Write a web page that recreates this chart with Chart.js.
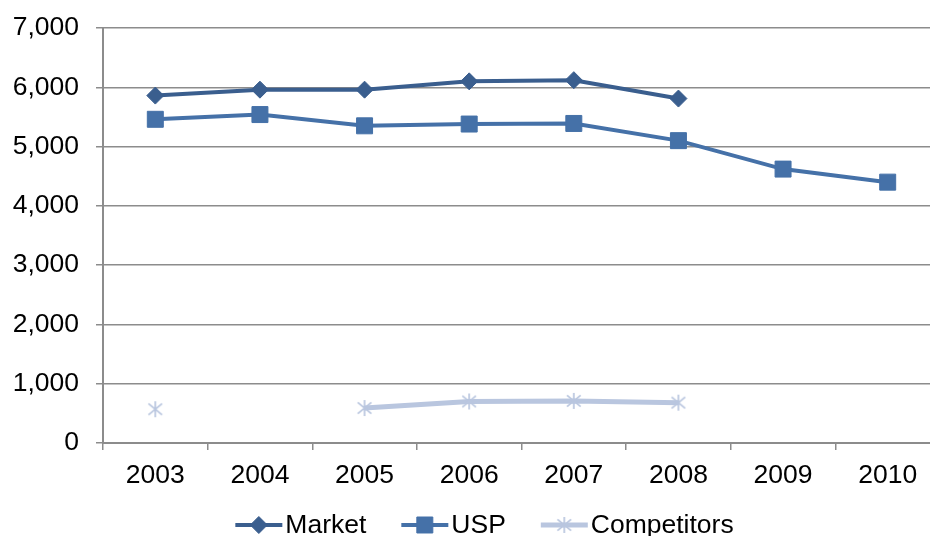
<!DOCTYPE html>
<html>
<head>
<meta charset="utf-8">
<script src="https://cdn.jsdelivr.net/npm/chart.js@4/dist/chart.umd.min.js"></script>
<style>
  html, body { margin: 0; padding: 0; background: #fff; overflow: hidden; width: 930px; height: 536px; }
  canvas { display: block; }
</style>
</head>
<body>
<canvas id="c" width="969" height="536"></canvas>
<script>
// Categories and series
const years = ['2003', '2004', '2005', '2006', '2007', '2008', '2009', '2010'];
const marketValues = [5860, 5960, 5960, 6100, 6120, 5810, null, null];
const uspValues = [5460, 5540, 5350, 5380, 5390, 5100, 4620, 4400];
const competitorValues = [570, null, 590, 700, 710, 680, null, null];
const yTicks = [0, 1000, 2000, 3000, 4000, 5000, 6000, 7000];

const FONT = 'Liberation Sans, Arial, sans-serif';
const FONT_SIZE = 26.5;
const GRID = '#8c8c8c';

// Asterisk-style marker: vertical stroke plus an X
function asteriskMarker(color, size) {
  const c = document.createElement('canvas');
  c.width = size; c.height = size;
  const g = c.getContext('2d');
  g.strokeStyle = color;
  g.lineWidth = 1.7;
  const m = size / 2, r = size / 2 - 1;
  g.beginPath();
  g.moveTo(m, m - r); g.lineTo(m, m + r);
  g.moveTo(m - r * 0.85, m - r * 0.7); g.lineTo(m + r * 0.85, m + r * 0.7);
  g.moveTo(m + r * 0.85, m - r * 0.7); g.lineTo(m - r * 0.85, m + r * 0.7);
  g.stroke();
  return c;
}

const compColor = '#B9C6DF';
const compMarker = asteriskMarker(compColor, 18);

// Legend with a line segment and marker per series, centred under the chart
const lineLegend = {
  id: 'lineLegend',
  afterDraw(chart) {
    const ctx = chart.ctx;
    const segW = 47, gapText = 3, gapItem = 35;
    ctx.save();
    ctx.font = FONT_SIZE + 'px ' + FONT;
    const items = chart.data.datasets.map(ds => ({ ds, tw: ctx.measureText(ds.label).width }));
    const total = items.reduce((s, it) => s + segW + gapText + it.tw, 0) + gapItem * (items.length - 1);
    let x = chart.width / 2 - total / 2;
    const y = 525;
    items.forEach(({ ds, tw }) => {
      ctx.strokeStyle = ds.borderColor;
      ctx.lineWidth = ds.borderWidth;
      ctx.beginPath();
      ctx.moveTo(x, y); ctx.lineTo(x + segW, y);
      ctx.stroke();
      ctx.fillStyle = ds.pointBackgroundColor;
      ctx.strokeStyle = ds.pointBorderColor;
      ctx.lineWidth = ds.pointBorderWidth;
      Chart.helpers.drawPoint(ctx, {
        pointStyle: ds.pointStyle,
        radius: ds.pointRadius,
        borderWidth: ds.pointBorderWidth,
        rotation: 0
      }, x + segW / 2, y);
      ctx.fillStyle = '#000';
      ctx.textBaseline = 'middle';
      ctx.textAlign = 'left';
      ctx.fillText(ds.label, x + segW + gapText, y + 1);
      x += segW + gapText + tw + gapItem;
    });
    ctx.restore();
  }
};

new Chart(document.getElementById('c'), {
  type: 'line',
  data: {
    labels: years,
    datasets: [
      {
        label: 'Market',
        data: marketValues,
        borderColor: '#3A5E8E',
        borderWidth: 4,
        pointStyle: 'rectRot',
        pointRadius: 8.5,
        pointBorderWidth: 1,
        pointBackgroundColor: '#3A5E8E',
        pointBorderColor: '#3A5E8E',
        spanGaps: false
      },
      {
        label: 'USP',
        data: uspValues,
        borderColor: '#4571A8',
        borderWidth: 4,
        pointStyle: 'rect',
        pointRadius: 11.3,
        pointBorderWidth: 1,
        pointBackgroundColor: '#4571A8',
        pointBorderColor: '#4571A8',
        spanGaps: false
      },
      {
        label: 'Competitors',
        data: competitorValues,
        borderColor: compColor,
        borderWidth: 5,
        pointStyle: compMarker,
        pointRadius: 9,
        pointBorderWidth: 1,
        pointBackgroundColor: compColor,
        pointBorderColor: compColor,
        spanGaps: false
      }
    ]
  },
  options: {
    responsive: false,
    animation: false,
    events: [],
    layout: { padding: { top: 28, right: 29, left: 0, bottom: 0 } },
    plugins: { legend: { display: false }, tooltip: { enabled: false } },
    scales: {
      x: {
        offset: true,
        grid: { display: true, offset: true, drawOnChartArea: false, drawTicks: true, tickLength: 7, color: GRID, lineWidth: 1.5 },
        border: { display: true, color: GRID, width: 2 },
        ticks: { color: '#000', font: { family: FONT, size: FONT_SIZE }, padding: 10, maxRotation: 0, autoSkip: false },
        afterFit(scale) { scale.height = 93; }
      },
      y: {
        min: 0,
        max: 7000,
        afterBuildTicks(scale) { scale.ticks = yTicks.map(v => ({ value: v })); },
        grid: { color: GRID, lineWidth: 1.5, tickLength: 7, drawTicks: true },
        border: { display: true, color: GRID, width: 2 },
        ticks: {
          color: '#000',
          font: { family: FONT, size: FONT_SIZE },
          padding: 17,
          callback: v => v.toLocaleString('en-US')
        },
        afterFit(scale) {
          scale.width = 103;
          scale.paddingTop = 0;
          scale.paddingBottom = 0;
        }
      }
    }
  },
  plugins: [lineLegend]
});
</script>
</body>
</html>
